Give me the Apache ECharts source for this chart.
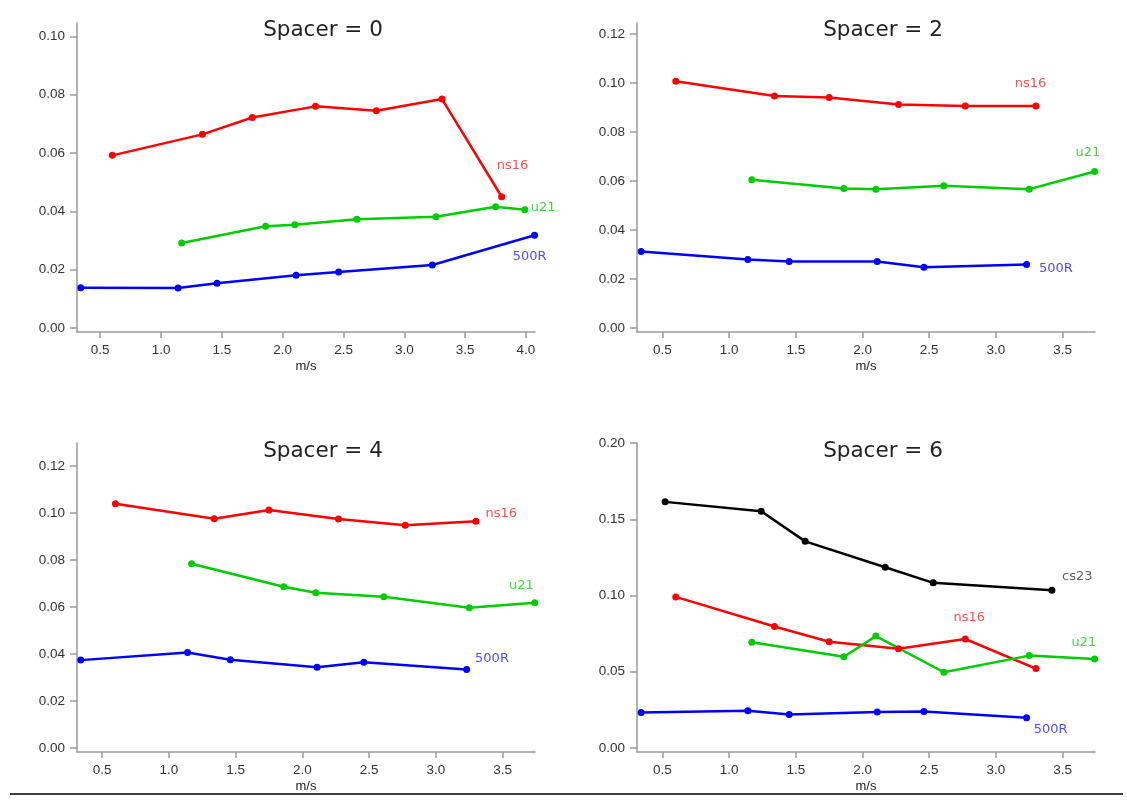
<!DOCTYPE html>
<html>
<head>
<meta charset="utf-8">
<script src="https://cdn.jsdelivr.net/npm/echarts@6/dist/echarts.min.js"></script>
<style>
  html, body { margin: 0; padding: 0; background: #fff; }
  #chart { width: 1127px; height: 804px; }
</style>
</head>
<body>
<div id="chart"></div>
<script>
// ---- datos ----
const titles = ["Spacer = 0", "Spacer = 2", "Spacer = 4", "Spacer = 6"];
const xAxisName = "m/s";

// Spacer = 0
const s0_ns16_x = [0.60, 1.34, 1.75, 2.27, 2.77, 3.31, 3.80];
const s0_ns16_y = [0.0592, 0.0664, 0.0722, 0.0760, 0.0745, 0.0785, 0.0450];
const s0_u21_x = [1.17, 1.86, 2.10, 2.61, 3.26, 3.75, 3.99];
const s0_u21_y = [0.0291, 0.0349, 0.0354, 0.0373, 0.0381, 0.0416, 0.0405];
const s0_500R_x = [0.34, 1.14, 1.46, 2.11, 2.46, 3.23, 4.07];
const s0_500R_y = [0.0138, 0.0137, 0.0153, 0.0181, 0.0192, 0.0216, 0.0318];

// Spacer = 2
const s2_ns16_x = [0.60, 1.34, 1.75, 2.27, 2.77, 3.30];
const s2_ns16_y = [0.1007, 0.0947, 0.0941, 0.0912, 0.0906, 0.0906];
const s2_u21_x = [1.17, 1.86, 2.10, 2.61, 3.25, 3.74];
const s2_u21_y = [0.0605, 0.0570, 0.0567, 0.0581, 0.0567, 0.0639];
const s2_500R_x = [0.34, 1.14, 1.45, 2.11, 2.46, 3.23];
const s2_500R_y = [0.0313, 0.0280, 0.0272, 0.0272, 0.0248, 0.0259];

// Spacer = 4
const s4_ns16_x = [0.60, 1.34, 1.75, 2.27, 2.77, 3.30];
const s4_ns16_y = [0.1039, 0.0976, 0.1013, 0.0975, 0.0948, 0.0965];
const s4_u21_x = [1.17, 1.86, 2.10, 2.61, 3.25, 3.74];
const s4_u21_y = [0.0784, 0.0686, 0.0661, 0.0644, 0.0597, 0.0618];
const s4_500R_x = [0.34, 1.14, 1.46, 2.11, 2.46, 3.23];
const s4_500R_y = [0.0374, 0.0406, 0.0376, 0.0344, 0.0365, 0.0334];

// Spacer = 6
const s6_cs23_x = [0.52, 1.24, 1.57, 2.17, 2.53, 3.42];
const s6_cs23_y = [0.1614, 0.1553, 0.1355, 0.1185, 0.1083, 0.1035];
const s6_ns16_x = [0.60, 1.34, 1.75, 2.27, 2.77, 3.30];
const s6_ns16_y = [0.0991, 0.0797, 0.0697, 0.0651, 0.0715, 0.0521];
const s6_u21_x = [1.17, 1.86, 2.10, 2.61, 3.25, 3.74];
const s6_u21_y = [0.0693, 0.0599, 0.0734, 0.0497, 0.0606, 0.0584];
const s6_500R_x = [0.34, 1.14, 1.45, 2.11, 2.46, 3.23];
const s6_500R_y = [0.0233, 0.0244, 0.0220, 0.0237, 0.0240, 0.0198];

// etiquetas de serie (nombre, x, y en datos)
const s0_labels = [["ns16", 3.89, 0.0558], ["u21", 4.14, 0.0414], ["500R", 4.03, 0.0246]];
const s2_labels = [["ns16", 3.26, 0.0999], ["u21", 3.69, 0.0717], ["500R", 3.45, 0.0244]];
const s4_labels = [["ns16", 3.49, 0.0999], ["u21", 3.64, 0.0693], ["500R", 3.42, 0.0379]];
const s6_labels = [["cs23", 3.61, 0.1126], ["ns16", 2.80, 0.0858], ["u21", 3.66, 0.0689], ["500R", 3.41, 0.0120]];

// ticks
const xTicks0 = [0.5, 1.0, 1.5, 2.0, 2.5, 3.0, 3.5, 4.0];
const xTicks = [0.5, 1.0, 1.5, 2.0, 2.5, 3.0, 3.5];
const yTicks0 = [0.00, 0.02, 0.04, 0.06, 0.08, 0.10];
const yTicks24 = [0.00, 0.02, 0.04, 0.06, 0.08, 0.10, 0.12];
const yTicks6 = [0.00, 0.05, 0.10, 0.15, 0.20];

/* ===============================
   CONFIGURACION
=============================== */
const colors = { ns16: "#ff0000", u21: "#00cc00", "500R": "#0000ff", cs23: "#000000" };
const labelColors = { ns16: "#ff2020", u21: "#10cc10", "500R": "#2020ff", cs23: "#333333" };

const panels = [
  { grid: { left: 77, top: 23, width: 458, height: 309 }, xr: [0.309, 4.074], yr: [-0.0014, 0.1046],
    xt: xTicks0, yt: yTicks0, titleX: 323, titleY: 19,
    series: [["ns16", s0_ns16_x, s0_ns16_y], ["u21", s0_u21_x, s0_u21_y], ["500R", s0_500R_x, s0_500R_y]],
    labels: s0_labels },
  { grid: { left: 637, top: 23, width: 458, height: 309 }, xr: [0.309, 3.743], yr: [-0.0016, 0.1245],
    xt: xTicks, yt: yTicks24, titleX: 883, titleY: 19,
    series: [["ns16", s2_ns16_x, s2_ns16_y], ["u21", s2_u21_x, s2_u21_y], ["500R", s2_500R_x, s2_500R_y]],
    labels: s2_labels },
  { grid: { left: 77, top: 443, width: 458, height: 309 }, xr: [0.312, 3.742], yr: [-0.0017, 0.1298],
    xt: xTicks, yt: yTicks24, titleX: 323, titleY: 440,
    series: [["ns16", s4_ns16_x, s4_ns16_y], ["u21", s4_u21_x, s4_u21_y], ["500R", s4_500R_x, s4_500R_y]],
    labels: s4_labels },
  { grid: { left: 637, top: 443, width: 458, height: 309 }, xr: [0.309, 3.743], yr: [-0.0026, 0.20],
    xt: xTicks, yt: yTicks6, titleX: 883, titleY: 440,
    series: [["cs23", s6_cs23_x, s6_cs23_y], ["ns16", s6_ns16_x, s6_ns16_y], ["u21", s6_u21_x, s6_u21_y], ["500R", s6_500R_x, s6_500R_y]],
    labels: s6_labels }
];

const axisGrey = "#9a9a9a";
const tickFont = { color: "#333", fontSize: 13.5, fontFamily: "Liberation Sans, Arial, sans-serif" };

const option = {
  backgroundColor: "#fff",
  animation: false,
  title: panels.map((p, i) => ({
    text: titles[i],
    left: p.titleX,
    top: p.titleY,
    textAlign: "center",
    padding: 0,
    textStyle: { color: "#222", fontSize: 21.5, fontWeight: "normal", fontFamily: "DejaVu Sans" }
  })),
  grid: panels.map(p => Object.assign({}, p.grid)),
  xAxis: panels.map((p, i) => ({
    type: "value",
    gridIndex: i,
    min: p.xr[0],
    max: p.xr[1],
    name: xAxisName,
    nameLocation: "middle",
    nameGap: 28,
    nameTextStyle: { color: "#222", fontSize: 13, fontFamily: "Liberation Sans, Arial, sans-serif" },
    axisLine: { show: true, onZero: false, lineStyle: { color: axisGrey, width: 1.5 } },
    axisTick: { show: true, length: 6, customValues: p.xt, lineStyle: { color: axisGrey, width: 1.5 } },
    axisLabel: Object.assign({ customValues: p.xt, margin: 11, formatter: v => v.toFixed(1) }, tickFont),
    splitLine: { show: false }
  })),
  yAxis: panels.map((p, i) => ({
    type: "value",
    gridIndex: i,
    min: p.yr[0],
    max: p.yr[1],
    axisLine: { show: true, onZero: false, lineStyle: { color: axisGrey, width: 1.5 } },
    axisTick: { show: true, length: 7, customValues: p.yt, lineStyle: { color: axisGrey, width: 1.5 } },
    axisLabel: Object.assign({ customValues: p.yt, margin: 12, formatter: v => v.toFixed(2) }, tickFont),
    splitLine: { show: false }
  })),
  series: [],
  graphic: [{
    type: "line",
    shape: { x1: 10, y1: 794, x2: 1123, y2: 794 },
    style: { stroke: "#000", lineWidth: 1.5 }
  }]
};

panels.forEach((p, i) => {
  p.series.forEach(([name, xs, ys]) => {
    option.series.push({
      name: name,
      type: "line",
      xAxisIndex: i,
      yAxisIndex: i,
      data: xs.map((x, k) => [x, ys[k]]),
      symbol: "circle",
      symbolSize: 7,
      showSymbol: true,
      lineStyle: { color: colors[name], width: 2.5 },
      itemStyle: { color: colors[name] },
      silent: true
    });
  });
  // nombres de las series escritos junto a las lineas
  option.series.push({
    type: "scatter",
    xAxisIndex: i,
    yAxisIndex: i,
    symbolSize: 1,
    itemStyle: { color: "rgba(0,0,0,0)" },
    clip: false,
    silent: true,
    data: p.labels.map(([name, x, y]) => ({
      value: [x, y],
      name: name,
      label: { color: labelColors[name] }
    })),
    label: {
      show: true,
      position: "inside",
      formatter: "{b}",
      fontSize: 13,
      fontFamily: "DejaVu Sans"
    }
  });
});

const chart = echarts.init(document.getElementById("chart"));
chart.setOption(option);
window.addEventListener("resize", () => chart.resize());
</script>
</body>
</html>
